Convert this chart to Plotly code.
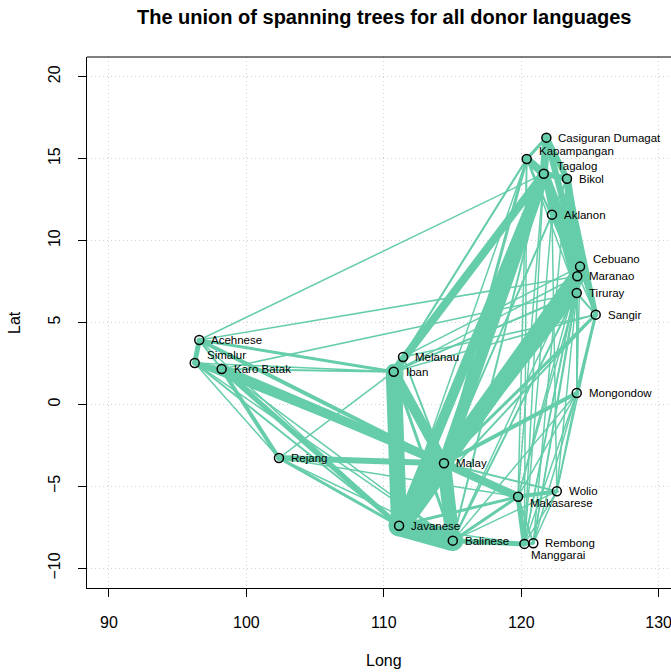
import plotly.graph_objects as go

# ---------------- data ----------------
node_names = ["Casiguran Dumagat", "Kapampangan", "Tagalog", "Bikol", "Aklanon",
              "Cebuano", "Maranao", "Tiruray", "Sangir", "Mongondow",
              "Melanau", "Iban", "Malay", "Wolio", "Makasarese",
              "Javanese", "Balinese", "Manggarai", "Rembong",
              "Acehnese", "Simalur", "Karo Batak", "Rejang"]
node_long = [121.83, 120.40, 121.64, 123.33, 122.24,
             124.28, 124.08, 124.04, 125.42, 124.04,
             111.40, 110.72, 114.38, 122.59, 119.77,
             111.11, 115.02, 120.23, 120.88,
             96.57, 96.24, 98.20, 102.37]
node_lat = [16.28, 14.98, 14.08, 13.77, 11.58,
            8.41, 7.82, 6.80, 5.48, 0.70,
            2.90, 2.00, -3.59, -5.30, -5.63,
            -7.40, -8.31, -8.51, -8.47,
            3.93, 2.53, 2.16, -3.27]

# edges of the union of spanning trees: endpoints and number of trees sharing the edge
edge_from = [
    "Acehnese", "Acehnese", "Acehnese", "Acehnese", "Acehnese", "Acehnese", "Acehnese",
    "Simalur", "Simalur", "Simalur", "Simalur", "Simalur", "Simalur",
    "Karo Batak", "Karo Batak", "Karo Batak", "Karo Batak", "Karo Batak", "Karo Batak",
    "Rejang", "Rejang", "Rejang", "Rejang", "Rejang",
    "Iban", "Iban", "Iban", "Iban", "Iban", "Iban", "Iban", "Iban", "Iban",
    "Melanau", "Melanau", "Melanau", "Melanau", "Melanau", "Melanau",
    "Javanese", "Javanese", "Malay", "Javanese", "Javanese", "Malay", "Malay",
    "Malay", "Malay", "Malay", "Malay", "Malay", "Malay", "Malay",
    "Javanese", "Javanese", "Javanese", "Javanese",
    "Balinese", "Balinese", "Balinese", "Balinese", "Balinese", "Balinese", "Balinese", "Balinese",
    "Makasarese", "Makasarese", "Makasarese", "Manggarai", "Wolio", "Wolio",
    "Makasarese", "Manggarai", "Rembong", "Wolio",
    "Makasarese", "Makasarese", "Makasarese", "Manggarai", "Manggarai", "Manggarai",
    "Rembong", "Rembong", "Rembong", "Wolio", "Wolio", "Wolio", "Manggarai",
    "Makasarese", "Manggarai",
    "Casiguran Dumagat", "Casiguran Dumagat", "Casiguran Dumagat", "Casiguran Dumagat", "Casiguran Dumagat",
    "Kapampangan", "Kapampangan", "Kapampangan", "Kapampangan",
    "Tagalog", "Tagalog", "Tagalog", "Tagalog", "Tagalog",
    "Bikol", "Bikol", "Bikol", "Aklanon", "Aklanon",
    "Cebuano", "Cebuano", "Maranao", "Tiruray", "Sangir",
    "Tiruray", "Maranao", "Cebuano",
]
edge_to = [
    "Simalur", "Karo Batak", "Iban", "Malay", "Tagalog", "Maranao", "Javanese",
    "Karo Batak", "Malay", "Javanese", "Rejang", "Balinese", "Iban",
    "Malay", "Javanese", "Rejang", "Iban", "Tiruray", "Balinese",
    "Malay", "Javanese", "Iban", "Balinese", "Makasarese",
    "Melanau", "Javanese", "Malay", "Tagalog", "Kapampangan", "Tiruray", "Maranao", "Balinese", "Sangir",
    "Tagalog", "Kapampangan", "Cebuano", "Malay", "Javanese", "Sangir",
    "Malay", "Balinese", "Balinese", "Tagalog", "Maranao", "Tiruray", "Tagalog",
    "Kapampangan", "Mongondow", "Makasarese", "Wolio", "Sangir", "Cebuano", "Aklanon",
    "Makasarese", "Kapampangan", "Sangir", "Manggarai",
    "Manggarai", "Makasarese", "Wolio", "Rembong", "Tagalog", "Mongondow", "Tiruray", "Cebuano",
    "Wolio", "Manggarai", "Rembong", "Rembong", "Rembong", "Manggarai",
    "Mongondow", "Mongondow", "Mongondow", "Mongondow",
    "Tagalog", "Cebuano", "Tiruray", "Tagalog", "Cebuano", "Maranao",
    "Tiruray", "Bikol", "Cebuano", "Tiruray", "Sangir", "Aklanon", "Aklanon",
    "Kapampangan", "Kapampangan",
    "Tagalog", "Kapampangan", "Bikol", "Cebuano", "Sangir",
    "Tagalog", "Maranao", "Sangir", "Tiruray",
    "Bikol", "Aklanon", "Cebuano", "Maranao", "Tiruray",
    "Cebuano", "Sangir", "Aklanon", "Cebuano", "Maranao",
    "Maranao", "Sangir", "Tiruray", "Sangir", "Mongondow",
    "Mongondow", "Mongondow", "Mongondow",
]
edge_trees = [
    5, 2, 3, 4, 1.5, 1.5, 1.5,
    4, 5, 2, 1.5, 1.5, 1.5,
    9, 5, 4, 2, 1.5, 1.5,
    6, 3, 1.5, 1.5, 1.5,
    3, 16, 10, 8, 2, 2, 1.5, 3, 1.5,
    2, 1.5, 1.5, 2, 1.5, 1.5,
    21, 21, 14, 10, 16, 8, 12,
    3, 4, 8, 2, 3, 2, 2,
    3, 1.5, 2, 1.5,
    5, 3, 1.5, 1.5, 2, 1.5, 2, 1.5,
    4, 5, 2, 3, 1.5, 1.5,
    1.5, 1.5, 1.5, 1.5,
    1.5, 1.5, 1.5, 1.5, 1.5, 1.5,
    1.5, 1.5, 1.5, 1.5, 1.5, 1.5, 1.5,
    1.5, 1.5,
    8, 3, 6, 6, 5,
    8, 2, 1.5, 1.5,
    6, 4, 10, 6, 4,
    8, 5, 2, 4, 2,
    4, 3, 4, 2, 3,
    1.5, 1.5, 1.5,
]

x_ticks = [90, 100, 110, 120, 130]
y_ticks = [-10, -5, 0, 5, 10, 15, 20]

# label offsets in pixels (dx, dy) relative to each point
label_offset = {
    "Kapampangan": (10, -8), "Tagalog": (11, -8), "Cebuano": (11, -8),
    "Simalur": (10, -8), "Makasarese": (10, 6), "Manggarai": (5, 11),
}

# ---------------- figure ----------------
EDGE_COL = "#66CDAA"
pos = {n: (x, y) for n, x, y in zip(node_names, node_long, node_lat)}

fig = go.Figure()
order = sorted(range(len(edge_from)), key=lambda i: edge_trees[i])
for i in order:
    a, b, w = edge_from[i], edge_to[i], edge_trees[i]
    xa, ya = pos[a]
    xb, yb = pos[b]
    fig.add_trace(go.Scatter(
        x=[xa, xb], y=[ya, yb], mode="lines+markers",
        line=dict(color=EDGE_COL, width=w),
        marker=dict(color=EDGE_COL, size=w, line=dict(width=0)),
        hoverinfo="skip", showlegend=False))

fig.add_trace(go.Scatter(
    x=node_long, y=node_lat, mode="markers",
    marker=dict(symbol="circle-open", size=9, color="black", line=dict(width=1.5)),
    text=node_names, hoverinfo="text", showlegend=False))

FONT = "Liberation Sans, Arial, Helvetica, sans-serif"
for n, x, y in zip(node_names, node_long, node_lat):
    dx, dy = label_offset.get(n, (10, 0))
    fig.add_annotation(x=x, y=y, xref="x", yref="y", text=n, showarrow=False,
                       xanchor="left", yanchor="middle", xshift=dx, yshift=-dy,
                       font=dict(family=FONT, size=11.5, color="black"))

fig.add_annotation(text="<b>The union of spanning trees for all donor languages</b>",
                   xref="paper", yref="paper", x=0.508, y=1.0753, showarrow=False,
                   xanchor="center", yanchor="middle",
                   font=dict(family=FONT, size=20, color="black"))
fig.add_annotation(text="Long", xref="paper", yref="paper", x=0.508, y=-0.1356,
                   showarrow=False, xanchor="center", yanchor="middle",
                   font=dict(family=FONT, size=16, color="black"))
fig.add_annotation(text="Lat", xref="paper", yref="paper", x=-0.1233, y=0.501,
                   showarrow=False, xanchor="center", yanchor="middle", textangle=-90,
                   font=dict(family=FONT, size=16, color="black"))

# top border of the box
fig.add_shape(type="line", xref="paper", yref="paper", x0=0, x1=1, y0=1, y1=1,
              line=dict(color="black", width=1))

axis_common = dict(showline=True, linecolor="black", linewidth=1, mirror=False,
                   ticks="outside", ticklen=8, tickcolor="black", tickwidth=1,
                   ticklabelstandoff=12, ticklabeloverflow="allow",
                   showgrid=True, gridcolor="#D3D3D3", griddash="1px,3px", gridwidth=1,
                   zeroline=False, tickfont=dict(family=FONT, size=16, color="black"))
fig.update_xaxes(range=[88.4, 130.9], tickvals=x_ticks, ticktext=[str(v) for v in x_ticks],
                 **axis_common)
fig.update_yaxes(range=[-11.2, 21.2], tickvals=y_ticks, ticktext=[str(v).replace("-", "\u2212") for v in y_ticks],
                 tickangle=-90, **axis_common)

fig.update_layout(width=671, height=672, margin=dict(l=87, r=0, t=57, b=84),
                  plot_bgcolor="white", paper_bgcolor="white")

fig.write_html("out.html", config={"displayModeBar": False},
               post_script="document.body.style.margin='0px';document.body.style.overflow='hidden';")
